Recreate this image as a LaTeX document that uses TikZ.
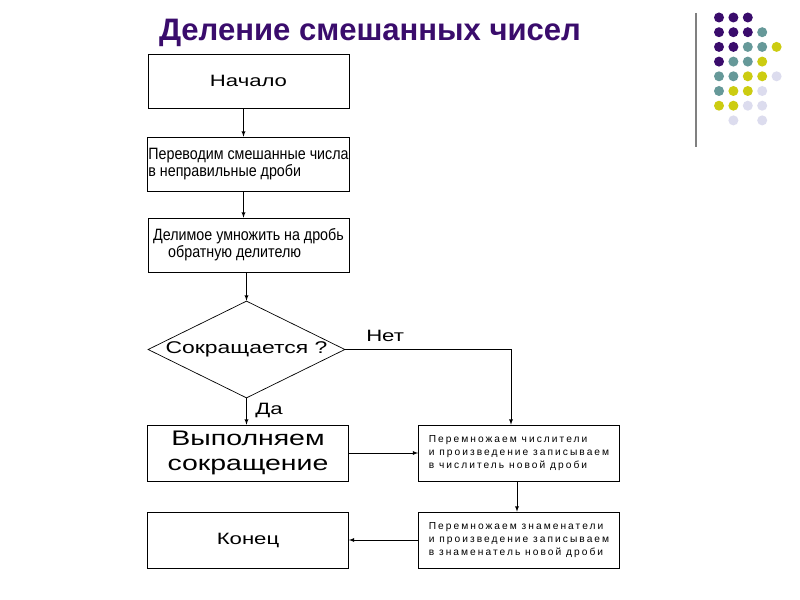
\documentclass[tikz,border=0pt]{standalone}
\usepackage{fontspec}
\setmainfont{Liberation Sans}
\newfontfamily\narrowfont[FakeStretch=0.87]{Liberation Sans}
\newfontfamily\widefont[FakeStretch=1.35]{Liberation Sans}
\newfontfamily\smallwide[LetterSpace=20]{Liberation Sans}
\usepackage{tikz}
\usetikzlibrary{shapes.geometric}

\definecolor{dpurple}{HTML}{3A0C6C}
\definecolor{tealg}{HTML}{669999}
\definecolor{yellowg}{HTML}{CCCC11}
\definecolor{lavend}{HTML}{DCDCEE}

\begin{document}
\begin{tikzpicture}[x=0.03cm,y=-0.03cm,
	box/.style={draw, fill=white, line width=0.6pt, minimum width=6.03cm, minimum height=1.62cm, inner sep=1pt},
	tallbox/.style={box, minimum height=1.68cm},
	decision/.style={draw, fill=white, line width=0.6pt, shape=diamond, aspect=2.03, minimum width=5.91cm, minimum height=2.91cm, inner sep=0pt},
	arr/.style={->, >=latex, line width=0.6pt},
	bigtext/.style={font=\fontsize{14}{16}\selectfont\widefont},
	narrowtext/.style={font=\fontsize{14}{14.5}\selectfont\narrowfont},
	smalltext/.style={font=\fontsize{8.7}{11}\selectfont\smallwide},
	dot/.style={radius=0.15cm}]
	\fill[white] (0,0) rectangle (800,600);
	% title
	\node[font=\fontsize{26.5}{30}\selectfont\bfseries, text=dpurple] (title) at (370,33) {Деление смешанных чисел};
	% decoration
	\draw[gray, line width=1.5pt] (696,13) -- (696,147);
	\foreach \c/\r/\col in {1/1/dpurple,2/1/dpurple,3/1/dpurple,
		1/2/dpurple,2/2/dpurple,3/2/dpurple,4/2/tealg,
		1/3/dpurple,2/3/dpurple,3/3/tealg,4/3/tealg,5/3/yellowg,
		1/4/dpurple,2/4/tealg,3/4/tealg,4/4/yellowg,
		1/5/tealg,2/5/tealg,3/5/yellowg,4/5/yellowg,5/5/lavend,
		1/6/tealg,2/6/yellowg,3/6/yellowg,4/6/lavend,
		1/7/yellowg,2/7/yellowg,3/7/lavend,4/7/lavend,
		2/8/lavend,4/8/lavend}
		\fill[\col] ({719+14.4*(\c-1)},{17.5+14.7*(\r-1)}) circle[dot];
	% flowchart
	\node[box, bigtext] (start) at (248.5,81) {Начало};
	\node[box, narrowtext, align=left] (conv) at (248.5,164) {Переводим смешанные числа\\ в неправильные дроби};
	\node[box, narrowtext, align=left] (mult) at (248.5,245) {Делимое умножить на дробь\\ \hspace*{0.45cm}обратную делителю};
	\node[decision, font=\fontsize{14.5}{16}\selectfont\widefont] (dec) at (246.5,349.5) {Сокращается ?};
	\node[tallbox, align=center, font=\fontsize{18}{21}\selectfont\widefont] (yes) at (248,453) {Выполняем\\ сокращение};
	\node[tallbox, smalltext, align=left] (num) at (519,453) {Перемножаем числители\\ и произведение записываем\\ в числитель новой дроби};
	\node[tallbox, smalltext, align=left] (den) at (519,540) {Перемножаем знаменатели\\ и произведение записываем\\ в знаменатель новой дроби};
	\node[tallbox, bigtext] (stop) at (248,540) {Конец};
	% connectors
	\draw[arr] ([xshift=-0.15cm]start.south) -- ([xshift=-0.15cm]conv.north);
	\draw[arr] ([xshift=-0.15cm]conv.south) -- ([xshift=-0.15cm]mult.north);
	\draw[arr] (mult.south -| dec.north) -- (dec.north);
	\draw[arr] (dec.south) -- node[pos=0.45, right=4pt, bigtext] {Да} (dec.south |- yes.north);
	\draw[arr] (dec.east) -| node[pos=0.12, above=3pt, bigtext] {Нет} ([xshift=-0.24cm]num.north);
	\draw[arr] (yes.east) -- (num.west);
	\draw[arr] ([xshift=-0.06cm]num.south) -- ([xshift=-0.06cm]den.north);
	\draw[arr] (den.west) -- (stop.east);
\end{tikzpicture}
\end{document}
